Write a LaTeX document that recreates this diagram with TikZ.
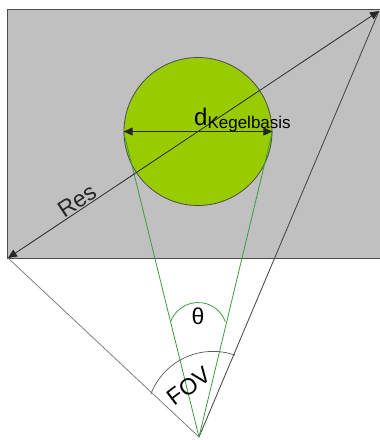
\documentclass[tikz,border=0pt]{standalone}
\usepackage{fontspec}
\setmainfont{Liberation Sans}
\usetikzlibrary{arrows.meta,positioning}
\definecolor{ballgreen}{HTML}{99CC00}
\definecolor{conegreen}{HTML}{3C9C3C}
\definecolor{screengray}{HTML}{C0C0C0}

\begin{document}
\begin{tikzpicture}[x=1pt,y=1pt,
  screen/.style={fill=screengray,draw=black!70,line width=1pt},
  ball/.style={circle,fill=ballgreen,draw=black!70,line width=.8pt,minimum size=148pt,inner sep=0pt},
  arr/.style={{Triangle[length=9pt,width=8pt]}-{Triangle[length=9pt,width=8pt]},black!85,line width=.8pt},
  ray/.style={line width=.8pt},
  cone/.style={conegreen,line width=.8pt},
  lbl/.style={font=\fontsize{23}{23}\selectfont,inner sep=1pt}
]
\useasboundingbox (0,0) rectangle (380,-440);
\draw[screen] (7.5,-9.5) rectangle (395,-258);
\coordinate (apex) at (199,-437);
\coordinate (bl) at (8,-258);
\coordinate (tr) at (379,-11);
\node[ball] (ball) at (198,-131.5) {};
% cone of view
\draw[ray,black!50] (apex) -- (bl);
\draw[ray,black!75] (apex) -- (tr);
\draw[cone] (apex) -- (ball.west);
\draw[cone] (apex) -- (ball.east);
% diagonal and diameter
\draw[arr] (bl) -- node[lbl,sloped,above,pos=.2] (res) {Res} (tr);
\draw[arr] (ball.west) -- (ball.east);
\node[anchor=base west,inner sep=0pt] (dlabel) at ([xshift=-4pt,yshift=6pt]ball.center)
  {{\fontsize{24}{24}\selectfont d}\raisebox{-3pt}{\fontsize{17}{17}\selectfont Kegelbasis}};
% angles
\coordinate (thc) at (198,-331.5);
\draw[cone] ([shift={(160:29)}]thc) arc[start angle=160,end angle=20,radius=29];
\node[lbl] (theta) at (198,-316) {θ};
\coordinate (fovc) at (213,-418);
\draw[black!65,line width=.7pt] ([shift={(70.6:66.6)}]fovc) arc[start angle=70.6,end angle=159.1,radius=66.6];
\node[lbl,rotate=37] (fov) at (189,-386) {FOV};
\end{tikzpicture}
\end{document}
